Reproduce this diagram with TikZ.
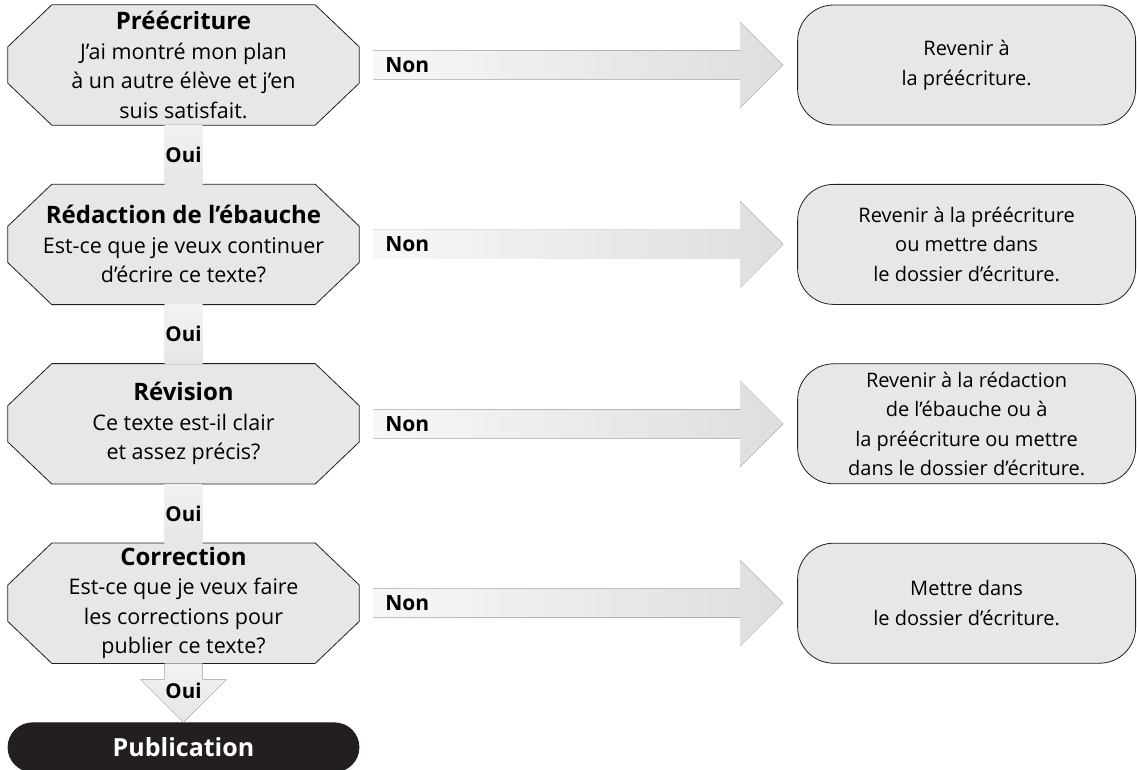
\documentclass[tikz,border=0pt]{standalone}
\usepackage{fontspec}
\setmainfont{Open Sans}
\usetikzlibrary{shapes,arrows,positioning,calc,backgrounds}
\definecolor{ink}{HTML}{231F20}
\definecolor{boxgray}{HTML}{E6E7E8}
\tikzset{
question/.style = {rectangle, minimum width=351pt, minimum height=120pt, inner sep=0pt, align=center, font=\fontsize{21.5}{29.5}\selectfont},
octagon/.style = {draw=ink, fill=boxgray, line width=0.8pt},
answer/.style = {draw=ink, fill=boxgray, rectangle, rounded corners=36pt, minimum width=338pt, minimum height=120pt, inner sep=0pt, line width=0.8pt, align=center, font=\fontsize{20}{29.5}\selectfont},
final/.style = {draw=ink, fill=ink, text=white, rounded rectangle, minimum width=351pt, minimum height=49pt, inner sep=0pt, line width=0.8pt, font=\bfseries\fontsize{25}{28}\selectfont},
yes/.style = {inner sep=0pt, font=\bfseries\fontsize{20.5}{22}\selectfont},
no/.style = {inner sep=0pt, anchor=west, font=\bfseries\fontsize{21}{22}\selectfont},
yesband/.style = {top color=gray!10, bottom color=gray!20},
noband/.style = {left color=gray!6, right color=gray!26},
}
\newcommand{\ttl}[1]{{\bfseries\fontsize{24}{29.5}\selectfont #1}}
\begin{document}
\begin{tikzpicture}[x=1pt, y=1pt, node distance=59pt]
\useasboundingbox (0,0) rectangle (1137,-770);
% questions
\node [question] (pre) at (183.5,-65) {\ttl{Préécriture}\\J’ai montré mon plan\\à un autre élève et j’en\\suis satisfait.};
\node [question, below=of pre] (draft) {\ttl{Rédaction de l’ébauche}\\Est-ce que je veux continuer\\d’écrire ce texte?};
\node [question, below=of draft] (rev) {\ttl{Révision}\\Ce texte est-il clair\\et assez précis?};
\node [question, below=of rev] (corr) {\ttl{Correction}\\Est-ce que je veux faire\\les corrections pour\\publier ce texte?};
\node [final, below=of corr] (pub) {Publication};
\begin{scope}[on background layer]
\foreach \n in {pre,draft,rev,corr}
  \filldraw [octagon] ($(\n.north west)+(44,0)$) -- ($(\n.north east)+(-44,0)$) -- ($(\n.north east)+(0,-42)$) -- ($(\n.south east)+(0,42)$)
    -- ($(\n.south east)+(-44,0)$) -- ($(\n.south west)+(44,0)$) -- ($(\n.south west)+(0,42)$) -- ($(\n.north west)+(0,-42)$) -- cycle;
\end{scope}
% answers
\node [answer, right=438pt of pre] (backpre) {Revenir à\\la préécriture.};
\node [answer, right=438pt of draft] (backdraft) {Revenir à la préécriture\\ou mettre dans\\le dossier d’écriture.};
\node [answer, right=438pt of rev] (backrev) {Revenir à la rédaction\\de l’ébauche ou à\\la préécriture ou mettre\\dans le dossier d’écriture.};
\node [answer, right=438pt of corr] (backcorr) {Mettre dans\\le dossier d’écriture.};
% oui
\fill [yesband] ($(pre.south)+(-19,0)$) rectangle ($(draft.north)+(19,0)$);
\fill [yesband] ($(draft.south)+(-19,0)$) rectangle ($(rev.north)+(19,0)$);
\fill [yesband] ($(rev.south)+(-19,0)$) rectangle ($(corr.north)+(19,0)$);
\fill [yesband] ($(corr.south)+(-19,0)$) -- ($(corr.south)+(19,0)$) -- ($(corr.south)+(19,-16)$) -- ($(corr.south)+(43,-16)$)
  -- (pub.north) -- ($(corr.south)+(-43,-16)$) -- ($(corr.south)+(-19,-16)$) -- cycle;
\node [yes] (oui1) at ($(pre.south)!0.5!(draft.north)$) {Oui};
\node [yes] (oui2) at ($(draft.south)!0.5!(rev.north)$) {Oui};
\node [yes] (oui3) at ($(rev.south)!0.5!(corr.north)$) {Oui};
\node [yes] (oui4) at ($(corr.south)+(0,-27)$) {Oui};
% non
\fill [noband] ($(pre.east)+(14,-14.5)$) -- ($(backpre.west)+(-57,-14.5)$) -- ($(backpre.west)+(-57,-43)$) -- ($(backpre.west)+(-14,0)$)
  -- ($(backpre.west)+(-57,43)$) -- ($(backpre.west)+(-57,14.5)$) -- ($(pre.east)+(14,14.5)$) -- cycle;
\fill [noband] ($(draft.east)+(14,-14.5)$) -- ($(backdraft.west)+(-57,-14.5)$) -- ($(backdraft.west)+(-57,-43)$) -- ($(backdraft.west)+(-14,0)$)
  -- ($(backdraft.west)+(-57,43)$) -- ($(backdraft.west)+(-57,14.5)$) -- ($(draft.east)+(14,14.5)$) -- cycle;
\fill [noband] ($(rev.east)+(14,-14.5)$) -- ($(backrev.west)+(-57,-14.5)$) -- ($(backrev.west)+(-57,-43)$) -- ($(backrev.west)+(-14,0)$)
  -- ($(backrev.west)+(-57,43)$) -- ($(backrev.west)+(-57,14.5)$) -- ($(rev.east)+(14,14.5)$) -- cycle;
\fill [noband] ($(corr.east)+(14,-14.5)$) -- ($(backcorr.west)+(-57,-14.5)$) -- ($(backcorr.west)+(-57,-43)$) -- ($(backcorr.west)+(-14,0)$)
  -- ($(backcorr.west)+(-57,43)$) -- ($(backcorr.west)+(-57,14.5)$) -- ($(corr.east)+(14,14.5)$) -- cycle;
\node [no] (non1) at ($(pre.east)+(26,0)$) {Non};
\node [no] (non2) at ($(draft.east)+(26,0)$) {Non};
\node [no] (non3) at ($(rev.east)+(26,0)$) {Non};
\node [no] (non4) at ($(corr.east)+(26,0)$) {Non};
\end{tikzpicture}
\end{document}
